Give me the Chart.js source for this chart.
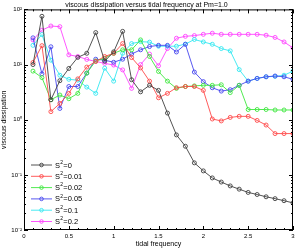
<!DOCTYPE html>
<html>
<head>
<meta charset="utf-8">
<script src="https://cdn.jsdelivr.net/npm/chart.js@4/dist/chart.umd.min.js"></script>
<style>
  html, body { margin: 0; padding: 0; background: #fff; }
  #wrap { width: 303px; height: 248px; }
</style>
</head>
<body>
<div id="wrap"><canvas id="dissChart"></canvas></div>
<script>
// tidal frequency, 0.1 ... 3.0
const freqs = [0.1, 0.2, 0.3, 0.4, 0.5, 0.6, 0.7, 0.8, 0.9, 1.0,
               1.1, 1.2, 1.3, 1.4, 1.5, 1.6, 1.7, 1.8, 1.9, 2.0,
               2.1, 2.2, 2.3, 2.4, 2.5, 2.6, 2.7, 2.8, 2.9, 3.0];

const s0 = [10, 75, 2.3, 5.1, 8.5, 13.5, 16, 38, 11.5, 17,
            40, 5.3, 3.2, 4.2, 3.4, 1.32, 0.53, 0.33, 0.165, 0.118,
            0.088, 0.074, 0.063, 0.055, 0.048, 0.044, 0.040, 0.037, 0.034, 0.031];
const s001 = [10.9, 22, 1.4, 1.97, 3.0, 5.5, 9, 11.4, 14, 16,
              24, 13.4, 8.7, 5, 2.5, 3.0, 3.8, 4.0, 4.0, 3.4,
              1.03, 0.95, 1.1, 1.15, 1.15, 0.97, 0.8, 0.56, 0.56, 0.56];
const s002 = [7.6, 5.8, 2.3, 2.8, 2.4, 3.0, 7, 11.6, 13, 16,
              18.5, 18.5, 28, 14, 7.5, 5.0, 3.7, 4.0, 4.1, 4.2,
              4.2, 4.3, 3.1, 4.2, 1.53, 1.53, 1.53, 1.5, 1.5, 1.5];
const s005 = [30.5, 6.8, 21, 1.6, 4.0, 4.0, 7, 12.5, 12, 11,
              12.5, 15.5, 18.5, 21.2, 22.3, 22.3, 16.9, 23.3, 7.3, 4.9,
              3.8, 3.3, 3.5, 4.2, 5.0, 5.6, 6.0, 6.2, 6.0, 5.4];
const s01 = [22.3, 35, 12, 6.4, 5.4, 5.2, 3.9, 3.0, 8.6, 5,
             16, 24, 26, 25.5, 21.5, 21.5, 21.5, 23.5, 28.5, 25.7,
             23.3, 19.5, 17.7, 8.1, 5.0, 5.6, 6.0, 6.1, 6.4, 7.6];
const s02 = [28, 42, 50, 48.6, 15, 14, 12.4, 11.4, 10.5, 9.8,
             8, 3.7, 10, 15.5, 9.5, 19.5, 30, 32.5, 33.5, 35.3,
             37, 35.3, 35.3, 35.3, 35.3, 35.3, 34, 31, 25.7, 20];

const seriesLabels = ['S²=0', 'S²=0.01', 'S²=0.02', 'S²=0.05', 'S²=0.1', 'S²=0.2'];
const seriesValues = [s0, s001, s002, s005, s01, s02];
const seriesColors = ['#404040', '#ff4a4a', '#3ee83e', '#4646ee', '#33e8f0', '#ff44ff'];

const xTickLabels = ['0', '0.5', '1', '1.5', '2', '2.5', '3'];
const yTickLabels = { '-2': '10⁻²', '-1': '10⁻¹', '0': '10⁰', '1': '10¹', '2': '10²' };

const FONT = 'Liberation Sans, Arial, sans-serif';

// frame, inward ticks and the legend inside the plot
const framePlugin = {
  id: 'frame',
  afterDraw(chart) {
    const { ctx, chartArea: a, scales } = chart;
    const xs = scales.x, ys = scales.y;
    ctx.save();
    ctx.strokeStyle = '#000';
    ctx.lineWidth = 1;
    ctx.strokeRect(a.left + 0.5, a.top + 0.5, a.right - a.left - 1, a.bottom - a.top - 1);
    ctx.beginPath();
    for (let i = 0; i <= 30; i++) {
      const px = Math.round(xs.getPixelForValue(i / 10)) + 0.5;
      const len = i % 5 === 0 ? 4 : 2;
      ctx.moveTo(px, a.bottom); ctx.lineTo(px, a.bottom - len);
      ctx.moveTo(px, a.top); ctx.lineTo(px, a.top + len);
    }
    for (let e = -2; e <= 2; e++) {
      for (let m = 1; m <= 9; m++) {
        const v = m * Math.pow(10, e);
        if (v > 100) break;
        const py = Math.round(ys.getPixelForValue(v)) + 0.5;
        const len = m === 1 ? 4 : 2;
        ctx.moveTo(a.left, py); ctx.lineTo(a.left + len, py);
        ctx.moveTo(a.right, py); ctx.lineTo(a.right - len, py);
      }
    }
    ctx.stroke();

    // legend, with the 2 of S² drawn as a raised small digit
    ctx.textBaseline = 'middle';
    chart.data.datasets.forEach((ds, i) => {
      const y = a.bottom - 65 + i * 11.3;
      const x0 = a.left + 7;
      ctx.strokeStyle = ds.borderColor;
      ctx.lineWidth = 0.9;
      ctx.beginPath();
      ctx.moveTo(x0, y); ctx.lineTo(x0 + 21, y);
      ctx.stroke();
      ctx.beginPath();
      ctx.arc(x0 + 10.5, y, 1.8, 0, Math.PI * 2);
      ctx.stroke();
      ctx.fillStyle = '#000';
      let tx = x0 + 24;
      ctx.font = '7.5px ' + FONT;
      ctx.fillText('S', tx, y + 0.5);
      tx += ctx.measureText('S').width;
      ctx.font = '5px ' + FONT;
      ctx.fillText('2', tx + 0.3, y - 2.5);
      tx += ctx.measureText('2').width + 0.5;
      ctx.font = '7.5px ' + FONT;
      ctx.fillText(ds.label.replace('S²', ''), tx, y + 0.5);
    });
    ctx.restore();
  }
};

new Chart(document.getElementById('dissChart'), {
  type: 'line',
  data: {
    datasets: seriesLabels.map((label, i) => ({
      label,
      data: freqs.map((f, j) => ({ x: f, y: seriesValues[i][j] })),
      borderColor: seriesColors[i],
      backgroundColor: 'rgba(0,0,0,0)',
      borderWidth: 0.9,
      pointRadius: 2,
      pointBorderWidth: 0.9,
      pointBackgroundColor: 'rgba(255,255,255,0)',
      pointBorderColor: seriesColors[i],
      tension: 0,
    })),
  },
  options: {
    responsive: true,
    maintainAspectRatio: false,
    animation: false,
    events: [],
    layout: { padding: { left: 0, right: 10, top: 0, bottom: 0 } },
    plugins: {
      legend: { display: false },
      tooltip: { enabled: false },
      title: {
        display: true,
        text: 'viscous dissipation versus tidal frequency at Pm=1.0',
        color: '#000',
        font: { family: FONT, size: 7, weight: 'normal' },
        padding: { top: 1, bottom: 0 },
      },
    },
    scales: {
      x: {
        type: 'linear',
        min: 0,
        max: 3,
        grid: { display: false, drawTicks: false },
        border: { display: false },
        ticks: {
          stepSize: 0.5,
          padding: 3,
          color: '#000',
          font: { family: FONT, size: 6 },
          maxRotation: 0,
          callback: (v) => xTickLabels[Math.round(v * 2)] ?? '',
        },
        title: {
          display: true,
          text: 'tidal frequency',
          color: '#000',
          font: { family: FONT, size: 7 },
          padding: { top: 0, bottom: 0 },
        },
        afterFit: (s) => { s.height = 18; },
      },
      y: {
        type: 'logarithmic',
        min: 0.01,
        max: 100,
        grid: { display: false, drawTicks: false },
        border: { display: false },
        ticks: {
          padding: 2,
          color: '#000',
          autoSkip: false,
          font: { family: FONT, size: 6 },
          callback: (v) => {
            const e = Math.log10(v);
            return Math.abs(e - Math.round(e)) < 1e-6 ? yTickLabels[String(Math.round(e))] : '';
          },
        },
        title: {
          display: true,
          text: 'viscous dissipation',
          color: '#000',
          font: { family: FONT, size: 7 },
          padding: { top: 0, bottom: 0 },
        },
        afterFit: (s) => { s.width = 24; },
      },
    },
  },
  plugins: [framePlugin],
});
</script>
</body>
</html>
